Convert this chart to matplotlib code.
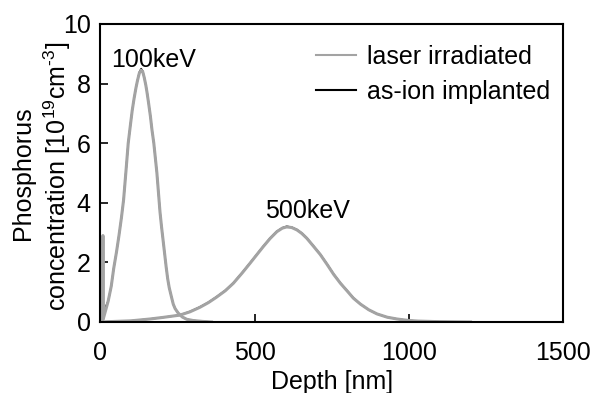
import matplotlib
matplotlib.use("Agg")
import matplotlib.pyplot as plt

plt.rcParams['font.family'] = ['Liberation Sans', 'DejaVu Sans']
plt.rcParams['mathtext.fontset'] = 'custom'
plt.rcParams['mathtext.rm'] = 'Liberation Sans'
plt.rcParams['mathtext.default'] = 'regular'

# ---- data (depth in nm, concentration in 1e19 cm^-3) ----
depth_100 = [0, 10, 25, 35, 43, 52, 60, 68, 75, 83, 90, 97, 103, 109, 115, 120, 126, 132,
             137, 142, 147, 151, 156, 162, 167, 173, 178, 183, 188, 193, 198, 203, 208,
             213, 218, 223, 230, 236, 242, 252, 265, 280, 300, 330, 360]
implanted_100 = [0.2, 0.35, 0.7, 1.2, 1.8, 2.35, 2.9, 3.5, 4.1, 5.1, 6.0, 6.6, 7.1, 7.5,
                 7.85, 8.1, 8.38, 8.5, 8.42, 8.2, 7.95, 7.72, 7.35, 6.9, 6.45, 6.0, 5.5,
                 5.0, 4.35, 3.7, 3.2, 2.75, 2.3, 1.85, 1.45, 1.15, 0.85, 0.6, 0.45, 0.3,
                 0.17, 0.09, 0.05, 0.02, 0.0]
laser_depth_100 = [7, 8, 9, 25, 35, 43, 52, 60, 68, 75, 83, 90, 97, 103, 109, 115, 120, 126,
                   132, 137, 142, 147, 151, 156, 162, 167, 173, 178, 183, 188, 193, 198, 203,
                   208, 213, 218, 223, 230, 236, 242, 252, 265, 280, 300, 330, 360]
laser_100 = [0.0, 2.9, 0.1, 0.7, 1.2, 1.8, 2.35, 2.9, 3.5, 4.1, 5.1, 6.0, 6.6, 7.1, 7.5,
             7.85, 8.1, 8.35, 8.45, 8.4, 8.2, 7.95, 7.7, 7.35, 6.9, 6.45, 6.0, 5.5, 5.0,
             4.35, 3.7, 3.2, 2.75, 2.3, 1.85, 1.45, 1.15, 0.85, 0.6, 0.45, 0.3, 0.17,
             0.09, 0.05, 0.02, 0.0]

depth_500 = [0, 100, 160, 200, 257, 290, 322, 350, 376, 405, 431, 460, 485, 508, 528, 550,
             572, 590, 604, 620, 637, 653, 669, 690, 713, 735, 756, 778, 800, 820, 843, 870,
             897, 930, 962, 1000, 1030, 1100, 1200]
implanted_500 = [0.0, 0.04, 0.1, 0.15, 0.23, 0.35, 0.5, 0.66, 0.84, 1.06, 1.31, 1.66, 1.98,
                 2.28, 2.54, 2.81, 3.04, 3.16, 3.21, 3.18, 3.1, 2.98, 2.82, 2.56, 2.27,
                 1.94, 1.61, 1.31, 1.05, 0.81, 0.6, 0.41, 0.27, 0.16, 0.1, 0.05, 0.03,
                 0.01, 0.0]
laser_500 = [0.0, 0.04, 0.1, 0.15, 0.23, 0.34, 0.49, 0.65, 0.83, 1.05, 1.3, 1.65, 1.97,
             2.27, 2.53, 2.8, 3.03, 3.15, 3.19, 3.17, 3.09, 2.97, 2.81, 2.55, 2.26, 1.93,
             1.6, 1.3, 1.04, 0.8, 0.6, 0.41, 0.27, 0.16, 0.1, 0.05, 0.03, 0.01, 0.0]

x_ticks = [0, 500, 1000, 1500]
y_ticks = [0, 2, 4, 6, 8, 10]

FS = 18
GREY = '#a3a3a3'

fig = plt.figure(figsize=(5.98, 3.93), dpi=100)
ax = fig.add_axes([0.168, 0.1807, 0.7735, 0.7583])

ax.plot(depth_100, implanted_100, color='black', lw=1.2)
ax.plot(depth_500, implanted_500, color='black', lw=1.2)
ax.plot(laser_depth_100, laser_100, color=GREY, lw=2.2)
ax.plot(depth_500, laser_500, color=GREY, lw=2.2)

# legend proxies
l1, = ax.plot([], [], color=GREY, lw=1.5)
l2, = ax.plot([], [], color='black', lw=1.5)
ax.legend([l1, l2], ['laser irradiated', 'as-ion implanted'], frameon=False,
          fontsize=FS, loc='upper right', bbox_to_anchor=(1.008, 0.985),
          handlelength=1.6, handletextpad=0.45, labelspacing=0.45,
          borderaxespad=0.35, borderpad=0.3)

ax.text(172, 8.8, '100keV', fontsize=FS, ha='center', va='center')
ax.text(670, 3.72, '500keV', fontsize=FS, ha='center', va='center')

ax.set_xlim(0, 1500)
ax.set_ylim(0, 10)
ax.set_xticks(x_ticks)
ax.set_yticks(y_ticks)
ax.tick_params(axis='both', direction='in', length=6, width=1.2, labelsize=FS)
ax.tick_params(axis='x', pad=14)
ax.tick_params(axis='y', pad=7)
for s in ax.spines.values():
    s.set_linewidth(1.5)

ax.set_xlabel('Depth [nm]', fontsize=FS, labelpad=3)

fig.text(23 / 598, 1 - 173 / 393, 'Phosphorus', rotation=90, fontsize=FS,
         ha='center', va='center')
fig.text(57 / 598, 1 - 176 / 393, 'concentration [10$^{19}$cm$^{\u2010 3}$]', rotation=90,
         fontsize=FS, ha='center', va='center')

fig.savefig('out.png', dpi=100)
